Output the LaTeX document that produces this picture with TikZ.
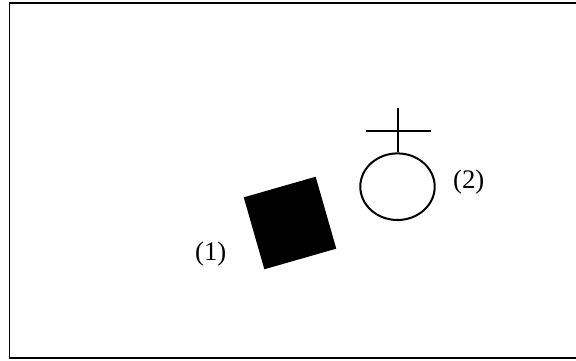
\documentclass[tikz,border=0pt]{standalone}
\usepackage{fontspec}
\setmainfont{Liberation Serif}
\usetikzlibrary{shapes.geometric}

\begin{document}
\begin{tikzpicture}[x=0.025cm,y=-0.025cm,line cap=butt,
  lbl/.style={inner sep=0pt,font=\fontsize{19}{21}\selectfont},
  sym/.style={line width=0.05cm}]
\useasboundingbox (0,0) rectangle (576,360);
\draw[line width=0.045cm] (9.5,3) rectangle (580,358);
\node[fill=black,rectangle,minimum size=1.87cm,inner sep=0pt,rotate=16] (male) at (290,223) {};
\node[sym,draw,ellipse,minimum width=1.86cm,minimum height=1.665cm,inner sep=0pt] (female) at (397.5,186.7) {};
\coordinate (top) at (397.5,108);
\coordinate (barl) at (365.7,130.7);
\coordinate (barr) at (430.5,130.7);
\draw[sym] (female.north) -- (top);
\draw[sym] (barl) -- (barr);
\node[lbl] (one) at (210.8,254) {(1)};
\node[lbl] (two) at (468.7,181.7) {(2)};
\end{tikzpicture}
\end{document}
